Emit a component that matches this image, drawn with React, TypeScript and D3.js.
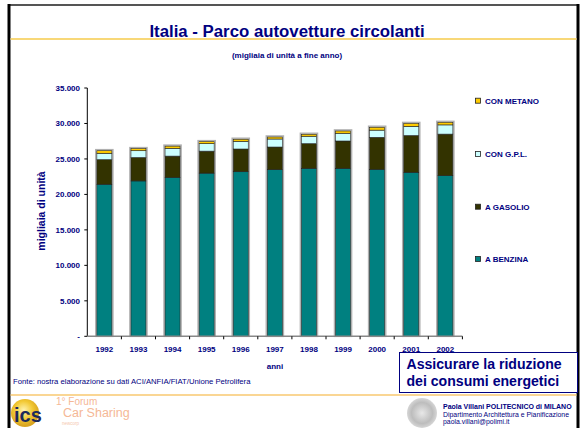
import React from "react";
import * as d3 from "d3";

const years = ["1992","1993","1994","1995","1996","1997","1998","1999","2000","2001","2002"];
const benzina = [21430, 21900, 22400, 23000, 23200, 23490, 23680, 23680, 23540, 23120, 22640];
const gasolio = [3470, 3300, 3000, 3100, 3200, 3190, 3470, 3850, 4510, 5180, 5860];
const gpl = [900, 960, 1100, 1050, 1090, 1130, 1050, 1090, 1010, 1300, 1300];
const metano = [360, 290, 300, 280, 280, 280, 270, 320, 400, 400, 350];
const seriesNames = ["A BENZINA", "A GASOLIO", "CON G.P.L.", "CON METANO"];
const seriesColors = ["#008080", "#333300", "#ccffff", "#ffcc00"];
const yTicks = [0, 5000, 10000, 15000, 20000, 25000, 30000, 35000];

const NAVY = "#000080";
const FONT = "'Liberation Sans', Arial, sans-serif";

export default function App() {
  const W = 582, H = 428;
  const x0 = 87.3, x1 = 462.4, yTop = 88, yBot = 336.3;
  const x = d3.scaleBand<string>().domain(years).range([x0, x1]).paddingInner(0.56).paddingOuter(0.28);
  const y = d3.scaleLinear().domain([0, 35000]).range([yBot, yTop]);
  const table = years.map((yr, i) => ({ year: yr, b: benzina[i], g: gasolio[i], p: gpl[i], m: metano[i] }));
  const stack = d3.stack<any>().keys(["b", "g", "p", "m"]);
  const stacked = stack(table);
  const fmt = (v: number) => (v === 0 ? "-" : d3.format(",")(v).replace(/,/g, "."));
  const step = x.step();
  const legendY = [259, 206.7, 154, 100.7];

  return (
    <svg width={W} height={H} style={{ position: "absolute", left: 0, top: 0, background: "#fff" }} fontFamily={FONT}>
      <defs>
        <radialGradient id="seal" cx="50%" cy="50%" r="50%">
          <stop offset="0%" stopColor="#e8e8e8" />
          <stop offset="70%" stopColor="#bdbdbd" />
          <stop offset="100%" stopColor="#d6d6d6" />
        </radialGradient>
        <radialGradient id="ylw" cx="45%" cy="40%" r="55%">
          <stop offset="0%" stopColor="#fff3b0" />
          <stop offset="60%" stopColor="#f2c832" />
          <stop offset="100%" stopColor="#d9a520" />
        </radialGradient>
      </defs>
      <rect x={0} y={0} width={W} height={H} fill="#fff" />
      {/* frame */}
      <line x1={8} y1={5} x2={578} y2={5} stroke="#555" strokeWidth={2} />
      <line x1={9} y1={4} x2={9} y2={H} stroke="#000" strokeWidth={3} />
      <line x1={578} y1={4} x2={578} y2={H} stroke="#000" strokeWidth={3} />
      <line x1={10.5} y1={39} x2={576.5} y2={39} stroke="#f8d878" strokeWidth={2} />
      <line x1={10.5} y1={395} x2={576.5} y2={395} stroke="#f8c870" strokeWidth={1.5} />

      {/* titles */}
      <text x={287} y={37} textAnchor="middle" fontSize={16.8} fontWeight="bold" fill={NAVY}>Italia - Parco autovetture circolanti</text>
      <text x={287} y={58} textAnchor="middle" fontSize={8} fontWeight="bold" fill={NAVY}>(migliaia di unità a fine anno)</text>

      {/* bars */}
      {years.map((yr) => {
        const i = years.indexOf(yr);
        const top = stacked[3][i][1];
        return (
          <rect key={"sh" + yr} x={(x(yr) as number) - 1} y={y(top) - 1} width={x.bandwidth() + 2} height={yBot - y(top) + 1}
            fill="none" stroke="#b0b0b0" strokeWidth={1.6} />
        );
      })}
      {stacked.map((s, si) => (
        <g key={si}>
          {s.map((d, i) => (
            <rect key={i} x={x(years[i]) as number} y={y(d[1])} width={x.bandwidth()} height={y(d[0]) - y(d[1])}
              fill={seriesColors[si]} stroke="#222" strokeWidth={0.6} />
          ))}
        </g>
      ))}

      {/* y axis */}
      <line x1={x0} y1={yTop} x2={x0} y2={yBot} stroke="#000" strokeWidth={1} />
      {yTicks.map((t) => (
        <g key={t}>
          <line x1={x0 - 3} y1={y(t)} x2={x0} y2={y(t)} stroke="#000" strokeWidth={1} />
          <text x={80} y={y(t) + 3} textAnchor="end" fontSize={8} fontWeight="bold" fill={NAVY}>{fmt(t)}</text>
        </g>
      ))}
      {/* x axis */}
      <line x1={x0} y1={yBot} x2={x1} y2={yBot} stroke="#888" strokeWidth={1.5} />
      {years.map((yr, i) => (
        <g key={yr}>
          <line x1={x0 + step * (i + 1)} y1={yBot} x2={x0 + step * (i + 1)} y2={yBot + 3} stroke="#000" strokeWidth={1} />
          <text x={(x(yr) as number) + x.bandwidth() / 2} y={352} textAnchor="middle" fontSize={8} fontWeight="bold" fill={NAVY}>{yr}</text>
        </g>
      ))}
      <text x={275} y={369} textAnchor="middle" fontSize={8} fontWeight="bold" fill={NAVY}>anni</text>
      <text transform={`translate(45,211) rotate(-90)`} textAnchor="middle" fontSize={10.5} fontWeight="bold" fill={NAVY}>migliaia di unità</text>

      {/* legend */}
      {seriesNames.map((n, i) => (
        <g key={n}>
          <rect x={475.5} y={legendY[i] - 2.5} width={5} height={5} fill={seriesColors[i]} stroke="#222" strokeWidth={0.8} />
          <text x={485} y={legendY[i] + 3} fontSize={8} fontWeight="bold" fill={NAVY}>{n}</text>
        </g>
      ))}

      {/* source */}
      <text x={13} y={384} fontSize={7.7} fill={NAVY}>Fonte: nostra elaborazione su dati ACI/ANFIA/FIAT/Unione Petrolifera</text>

      {/* callout box */}
      <rect x={399.5} y={352.5} width={178} height={40} fill="#fff" stroke={NAVY} strokeWidth={1} />
      <text x={406.5} y={369} fontSize={14.1} fontWeight="bold" fill={NAVY}>Assicurare la riduzione</text>
      <text x={406.5} y={386} fontSize={14.1} fontWeight="bold" fill={NAVY}>dei consumi energetici</text>

      {/* footer right */}
      <circle cx={422} cy={413} r={15} fill="url(#seal)" />
      <text x={443} y={409} fontSize={7} fontWeight="bold" fill={NAVY}>Paola Villani POLITECNICO di MILANO</text>
      <text x={443} y={416.5} fontSize={6.9} fill={NAVY}>Dipartimento Architettura e Pianificazione</text>
      <text x={443} y={424} fontSize={6.9} fill={NAVY}>paola.villani@polimi.it</text>

      {/* footer left logo */}
      <circle cx={25} cy={413} r={14} fill="url(#ylw)" />
      <text x={14} y={422} fontSize={20} fontWeight="bold" fill="#1c2a5c">ics</text>
      <text x={56} y={405} fontSize={10} fill="#f5b896">1° Forum</text>
      <text x={63} y={417} fontSize={12.5} fill="#f5b896">Car Sharing</text>
      <text x={62} y={425} fontSize={4.5} fill="#f5c8ae">newcorp</text>
    </svg>
  );
}
